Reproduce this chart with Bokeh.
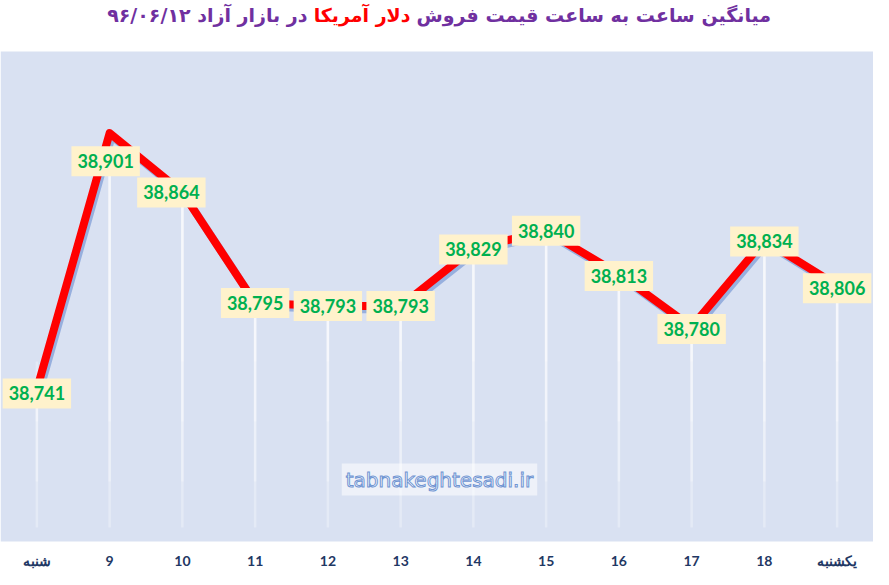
from bokeh.plotting import figure
from bokeh.models import ColumnDataSource, Label, Range1d, BoxAnnotation
from bokeh.transform import dodge
from bokeh.core.properties import value
from bokeh.embed import file_html
from bokeh.resources import INLINE

# ---- data ----
hours = ["شنبه", "9", "10", "11", "12", "13", "14", "15", "16", "17", "18", "یکشنبه"]
prices = [38741, 38901, 38864, 38795, 38793, 38793, 38829, 38840, 38813, 38780, 38834, 38806]
title_right = "میانگین ساعت به ساعت قیمت فروش"
title_red = "دلار آمریکا"
title_left = "در بازار آزاد ۹۶/۰۶/۱۲"
watermark = "tabnakeghtesadi.ir"

# label nudges (screen px)
label_dx = [0, -4, -11, 0, 0, 0, 0, 0, 0, 0, 0, 0]
label_dy = [4, 28, 0, 0, 0, 0, 1, 0, 2, 2, 1, 3]

src = ColumnDataSource(dict(
    x=hours, y=prices, label=[f"{v:,}" for v in prices], dx=label_dx, dy=label_dy,
))

W, H = 873, 569
top_pad, bot_pad = 51, 28          # white bands above / below the blue plot area
y_lo, y_hi = 38646, 38952          # value range of the blue plot area
k = (y_hi - y_lo) / (H - top_pad - bot_pad)

p = figure(width=W, height=H, x_range=hours,
           y_range=Range1d(y_lo - bot_pad * k, y_hi + top_pad * k),
           output_backend="svg", toolbar_location=None,
           x_axis_location=None, y_axis_location=None,
           min_border=0)
p.background_fill_color = "white"
p.border_fill_color = "white"
p.outline_line_color = None
p.grid.visible = False

# blue plot area
p.add_layout(BoxAnnotation(bottom=y_lo, top=y_hi, fill_color="#d9e1f2", fill_alpha=1.0,
                           line_color=None, level="underlay"))

# drop lines (fading towards the bottom)
for end_px in (14, 60, 120, 180):
    p.segment(x0="x", y0="y", x1="x", y1=y_lo + end_px * k, source=src, line_color="white",
              line_width=2.5, line_alpha=0.3)

# shadow + line
p.line(x=dodge("x", 0.03, range=p.x_range), y=dodge("y", -1.9), source=src,
       line_color="#8faadc", line_width=8, line_alpha=0.9, line_join="round")
p.line(x="x", y="y", source=src, line_color="#ff0000", line_width=8, line_join="round")

# data labels
p.text(x="x", y="y", text="label", x_offset="dx", y_offset="dy", source=src,
       text_align="center", text_baseline="middle", text_font=value("Lato"),
       text_font_style="bold", text_font_size="18px", text_color="#00b050",
       background_fill_color="#fff2cc", padding=(6, 8))

# category labels below the plot area
p.text(x="x", y=y_lo, text="x", source=src, y_offset=19,
       text_align="center", text_baseline="middle", text_font=value("Lato"),
       text_font_style="bold", text_font_size="14px", text_color="#1f3864")

# title (three coloured parts)
tfont = "DejaVu Sans"
tsize = "19px"
ty = H - 14
p.add_layout(Label(x=416, y=ty, x_units="screen", y_units="screen", text=title_right,
                   text_align="left", text_baseline="middle", text_font=tfont,
                   text_font_style="bold", text_font_size=tsize, text_color="#7030a0"))
p.add_layout(Label(x=410, y=ty, x_units="screen", y_units="screen", text=title_red,
                   text_align="right", text_baseline="middle", text_font=tfont,
                   text_font_style="bold", text_font_size=tsize, text_color="#ff0000"))
p.add_layout(Label(x=307, y=ty, x_units="screen", y_units="screen", text=title_left,
                   text_align="right", text_baseline="middle", text_font=tfont,
                   text_font_style="bold", text_font_size=tsize, text_color="#7030a0"))

# watermark
p.add_layout(Label(x=439, y=bot_pad + 62, x_units="screen", y_units="screen", text=watermark,
                   text_align="center", text_baseline="middle", text_font="DejaVu Sans",
                   text_font_size="20px", text_color="white", text_outline_color="#6f94d2",
                   background_fill_color="white", background_fill_alpha=0.55, padding=4))

open("out.html", "w").write(file_html(p, INLINE))
